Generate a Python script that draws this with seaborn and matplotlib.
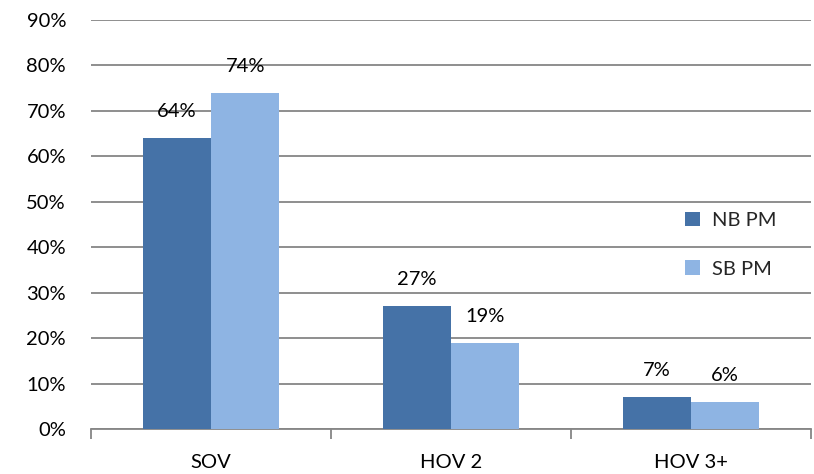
import matplotlib
matplotlib.use("Agg")
import matplotlib.pyplot as plt
import seaborn as sns
import pandas as pd
from matplotlib.ticker import FixedLocator, PercentFormatter

categories = ["SOV", "HOV 2", "HOV 3+"]
series = ["NB PM", "SB PM"]
nb_pm = [64, 27, 7]
sb_pm = [74, 19, 6]
y_ticks = [0, 10, 20, 30, 40, 50, 60, 70, 80, 90]

df = pd.DataFrame({
    "mode": categories * 2,
    "direction": [series[0]] * 3 + [series[1]] * 3,
    "share": nb_pm + sb_pm,
})

sns.set_theme(style="white")
plt.rcParams["font.family"] = ["Lato", "DejaVu Sans"]
FS = 14.5

fig = plt.figure(figsize=(8.14, 4.74), dpi=100)
ax = fig.add_axes([91 / 814, 1 - 429 / 474, 720 / 814, 409 / 474])

palette = {"NB PM": "#4572A7", "SB PM": "#8EB4E3"}
sns.barplot(data=df, x="mode", y="share", hue="direction", order=categories,
            hue_order=series, palette=palette, width=0.57, saturation=1,
            errorbar=None, linewidth=0, ax=ax, zorder=3)

for cont in ax.containers:
    ax.bar_label(cont, labels=[f"{v:.0f}%" for v in cont.datavalues],
                 padding=13, fontsize=FS, color="#000000")

ax.set_ylim(0, 90)
ax.set_xlim(-0.5, 2.5)
ax.set_yticks(y_ticks)
ax.yaxis.set_major_formatter(PercentFormatter(decimals=0))
ax.yaxis.grid(True, color="#868686", linewidth=1.3, zorder=0)
ax.set_axisbelow(True)
ax.tick_params(axis="y", length=0, labelsize=FS, pad=18, colors="#000000")
ax.tick_params(axis="x", which="major", length=0, labelsize=FS, pad=18, colors="#000000")
ax.xaxis.set_minor_locator(FixedLocator([-0.5, 0.5, 1.5, 2.5]))
ax.tick_params(axis="x", which="minor", length=7, width=1.3, color="#868686",
               direction="out", bottom=True)
ax.set_xlabel("")
ax.set_ylabel("")

for s in ["top", "right", "left"]:
    ax.spines[s].set_visible(False)
ax.spines["bottom"].set_color("#868686")
ax.spines["bottom"].set_linewidth(1.3)

handles, labels = ax.get_legend_handles_labels()
ax.legend(handles, labels, loc="center left", bbox_to_anchor=(0.80, 0.451),
          frameon=False, fontsize=FS, handlelength=0.75, handleheight=0.75,
          handletextpad=0.6, labelspacing=1.55)

fig.savefig("out.png", dpi=100)
